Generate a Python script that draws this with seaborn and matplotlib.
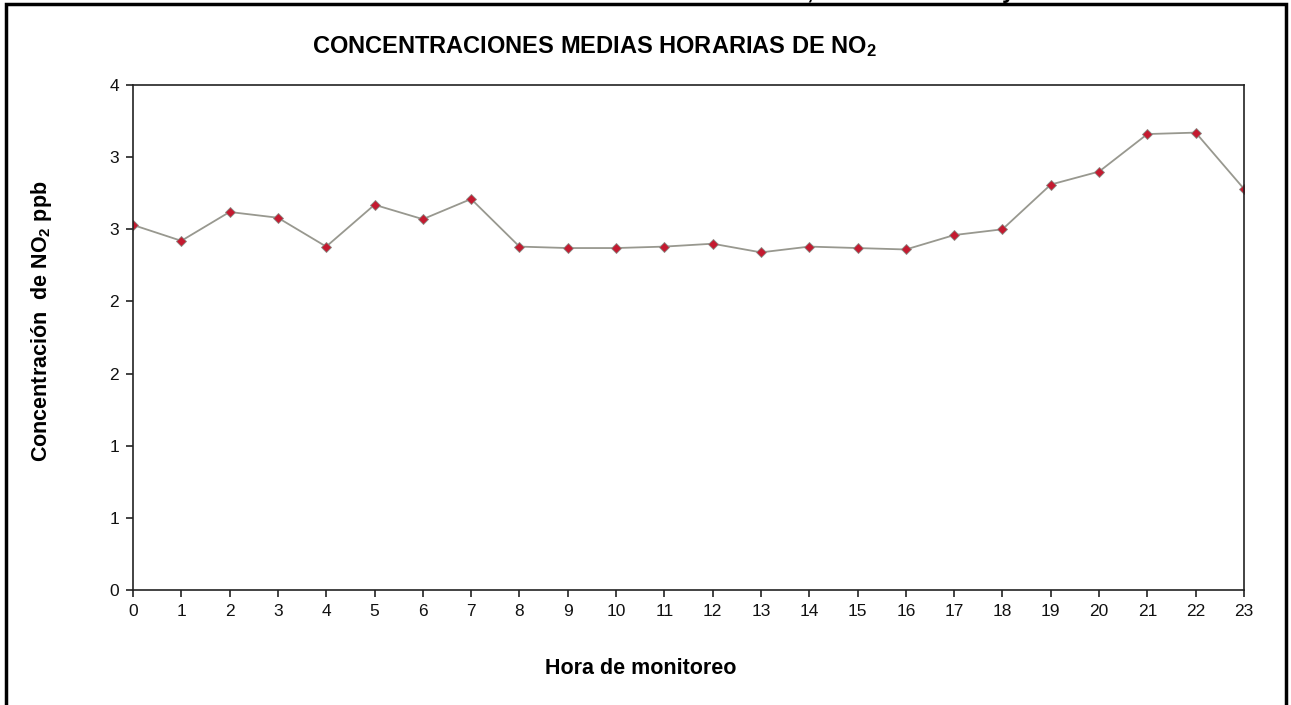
import matplotlib
matplotlib.use("Agg")
import matplotlib.pyplot as plt
import seaborn as sns
import pandas as pd
from matplotlib.patches import Rectangle

# ---- data ----
hours = list(range(24))
no2_ppb = [2.53, 2.42, 2.62, 2.58, 2.38, 2.67, 2.57, 2.71, 2.38, 2.37, 2.37, 2.38,
           2.40, 2.34, 2.38, 2.37, 2.36, 2.46, 2.50, 2.81, 2.90, 3.16, 3.17, 2.78]
y_ticks = [0, 0.5, 1.0, 1.5, 2.0, 2.5, 3.0, 3.5]
y_tick_labels = ["0", "1", "1", "2", "2", "3", "3", "4"]
x_tick_labels = [str(h) for h in hours]

title_text = "CONCENTRACIONES MEDIAS HORARIAS DE NO$_2$"
ylabel_text = "Concentración  de NO$_2$ ppb"
xlabel_text = "Hora de monitoreo"

df = pd.DataFrame({"hora": hours, "no2": no2_ppb})

sns.set_style("white")
plt.rcParams["font.family"] = ["Liberation Sans", "DejaVu Sans"]
plt.rcParams["mathtext.default"] = "regular"

W, H = 1291, 705
fig = plt.figure(figsize=(W / 100, H / 100), dpi=100)
ax = fig.add_axes([133 / W, 1 - 590 / H, (1244 - 133) / W, (590 - 85) / H])

sns.lineplot(data=df, x="hora", y="no2", ax=ax, color="#98988f", linewidth=1.3,
             marker="D", markersize=5.5, markerfacecolor="#c41a30",
             markeredgecolor="#8a8a84", markeredgewidth=0.6)

ax.set_xlim(0, 23)
ax.set_ylim(0, 3.5)
ax.set_xticks(hours)
ax.set_xticklabels(x_tick_labels)
ax.set_yticks(y_ticks)
ax.set_yticklabels(y_tick_labels)
ax.set_xlabel("")
ax.set_ylabel("")
for s in ax.spines.values():
    s.set_visible(True)
    s.set_color("#222222")
    s.set_linewidth(1.2)
ax.tick_params(axis="both", which="major", direction="out", length=5, width=1.2,
               color="#222222", labelsize=12.5, labelcolor="#111111",
               bottom=True, left=True)
ax.tick_params(axis="x", pad=5)
ax.tick_params(axis="y", pad=5)
ax.grid(False)

fig.text(594 / W, 1 - 47 / H, title_text, ha="center", va="center",
         fontsize=17, fontweight="bold", color="black")
fig.text(42 / W, 1 - 321 / H, ylabel_text, ha="center", va="center",
         rotation=90, fontsize=15.5, fontweight="bold", color="black")
fig.text(641 / W, 1 - 668 / H, xlabel_text, ha="center", va="center",
         fontsize=15.5, fontweight="bold", color="black")

# outer frame (chart area border)
fig.patches.append(Rectangle((5.5 / W, -0.05), (1286 - 5.5) / W, 1.05 - 4.5 / H,
                             transform=fig.transFigure, fill=False,
                             edgecolor="black", linewidth=2.5, clip_on=False))

# descenders of the cut-off text line above the chart
fig.text(810 / W, 1 + 2 / H, ",", ha="center", va="baseline",
         fontsize=17, fontweight="bold", color="black")
fig.text(1008 / W, 1 + 2 / H, "y", ha="center", va="baseline",
         fontsize=17, fontweight="bold", color="black")

fig.savefig("out.png", dpi=100, facecolor="white")
